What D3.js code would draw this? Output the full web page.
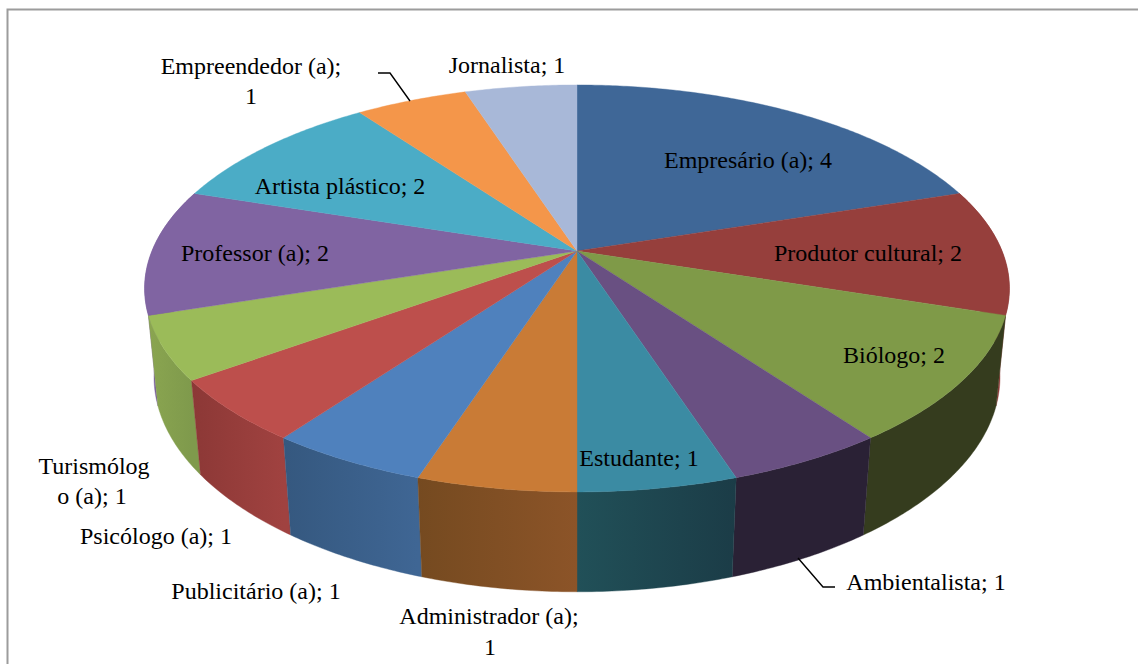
<!DOCTYPE html>
<html><head><meta charset="utf-8">
<script src="https://cdn.jsdelivr.net/npm/d3@7"></script>
<style>html,body{margin:0;padding:0;background:#fff}svg{display:block}
text{font-family:"Liberation Serif",serif;font-size:24px;fill:#000}</style></head>
<body><script>
const categories=["Empresário (a)","Produtor cultural","Biólogo","Ambientalista","Estudante","Administrador (a)","Publicitário (a)","Psicólogo (a)","Turismólogo (a)","Professor (a)","Artista plástico","Empreendedor (a)","Jornalista"];
const values=[4,2,2,1,1,1,1,1,1,2,2,1,1];
const topColors=["#3f6797","#963f3c","#7f9a48","#695082","#3b8ba3","#c97b36","#4f81bd","#bd4f4c","#9bbb59","#8064a2","#4bacc6","#f4964a","#a8b8d8"];
const wallStart=["#3f6797","#8f3b38","#353c1e","#2a2135","#215058","#8c5428","#3f6694","#a04240","#7f9a4c","#7a5f9c","#4bacc6","#f4964a","#a8b8d8"];
const wallEnd=["#3f6797","#8f3b38","#353c1e","#2a2135","#1b3c47","#754a20","#35587f","#8c3836","#8aa550","#7a5f9c","#4bacc6","#f4964a","#a8b8d8"];
// label lines: text, centre x, baseline y
const labelLines=[
["Empresário (a); 4",748,168],["Produtor cultural; 2",868,261],["Biólogo; 2",894,363],
["Ambientalista; 1",926,590],["Estudante; 1",639,466],["Administrador (a);",489,624],["1",490,655],
["Publicitário (a); 1",256,599],["Psicólogo (a); 1",156,544],["Turismólog",94,474],["o (a); 1",92,504],
["Professor (a); 2",255,261],["Artista plástico; 2",340,194],["Empreendedor (a);",251,74],["1",251,104],["Jornalista; 1",507,73]];
const leaders=[[[378,73],[390,73],[410,101]],[[835,587],[823,587],[798,558]]];

const W=1138,H=664;
const cx=577,cy=251,A=425,C=196.6,b=0.184,e=0.0214,vpy=4400;
const svg=d3.select("body").append("svg").attr("width",W).attr("height",H);
const defs=svg.append("defs");
svg.append("rect").attr("width",W).attr("height",H).attr("fill","#fff");
svg.append("path").attr("d",`M7.5,${H+2}V9.5H${W+2}`).attr("fill","none").attr("stroke","#9c9c9c").attr("stroke-width",2);

const arcs=d3.pie().value(d=>d).sort(null)(values);
function rimTop(t){const X=Math.sin(t),Y=Math.cos(t),w=1+b*Y;return [cx+A*X/w,cy-C*Y/w];}
function rimBot(t){const Y=Math.cos(t),w=1+b*Y,k=w/(w+e),p=rimTop(t);return [cx+(p[0]-cx)*k,vpy+(p[1]-vpy)*k];}
function samples(a0,a1){const n=Math.max(2,Math.ceil((a1-a0)/0.01));return d3.range(n+1).map(i=>a0+(a1-a0)*i/n);}
const line=d3.line();

// side walls, back to front
const order=arcs.map((d,i)=>i).filter(i=>arcs[i].endAngle>Math.PI*0.45&&arcs[i].startAngle<Math.PI*1.55)
 .sort((p,q)=>Math.abs((arcs[q].startAngle+arcs[q].endAngle)/2-Math.PI)-Math.abs((arcs[p].startAngle+arcs[p].endAngle)/2-Math.PI));
order.forEach(i=>{
  const d=arcs[i],ts=samples(d.startAngle,d.endAngle),T=ts.map(rimTop),B=ts.map(rimBot).reverse();
  const g=defs.append("linearGradient").attr("id","w"+i).attr("gradientUnits","userSpaceOnUse")
    .attr("x1",d3.min(T,p=>p[0])).attr("x2",d3.max(T,p=>p[0])).attr("y1",0).attr("y2",0);
  const leftSide=d.startAngle>=Math.PI;
  g.append("stop").attr("offset",0).attr("stop-color",leftSide?wallEnd[i]:wallStart[i]);
  g.append("stop").attr("offset",1).attr("stop-color",leftSide?wallStart[i]:wallEnd[i]);
  svg.append("path").attr("d",line(T.concat(B))+"Z").attr("fill",`url(#w${i})`).attr("stroke",`url(#w${i})`).attr("stroke-width",0.4);
});
// top slices
arcs.forEach((d,i)=>{
  const pts=[[cx,cy]].concat(samples(d.startAngle,d.endAngle).map(rimTop));
  svg.append("path").attr("d",line(pts)+"Z").attr("fill",topColors[i]).attr("stroke",topColors[i]).attr("stroke-width",0.4);
});
leaders.forEach(l=>svg.append("path").attr("d",line(l)).attr("fill","none").attr("stroke","#000").attr("stroke-width",1.4));
labelLines.forEach(l=>svg.append("text").attr("x",l[1]).attr("y",l[2]).attr("text-anchor","middle").text(l[0]));
</script></body></html>
